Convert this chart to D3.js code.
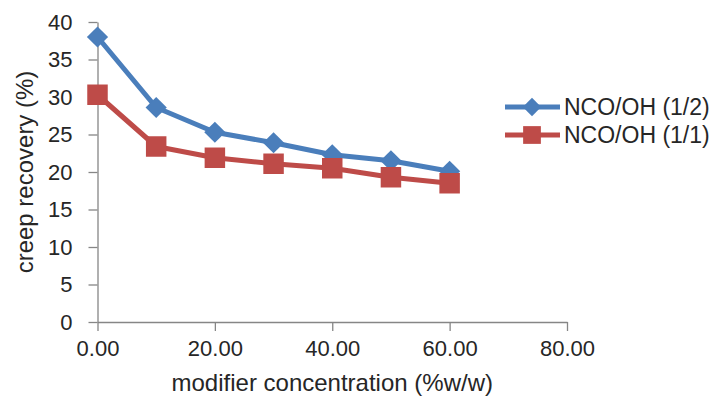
<!DOCTYPE html>
<html>
<head>
<meta charset="utf-8">
<script src="https://cdn.jsdelivr.net/npm/d3@7"></script>
<style>
  body { margin: 0; background: #fff; }
  svg { display: block; font-family: "Liberation Sans", Arial, sans-serif; }
  .axis path, .axis line { stroke: #868686; stroke-width: 1.3; }
  .axis text { fill: #262626; font-size: 22px; }
  .title { fill: #262626; font-size: 24px; }
  .legend text { fill: #262626; font-size: 23px; }
</style>
</head>
<body>
<svg width="719" height="402"></svg>
<script>
// data
var concentration = [0, 10, 20, 30, 40, 50, 60];
var recoveryHalf = [38.0, 28.6, 25.3, 23.9, 22.3, 21.5, 20.1];
var recoveryOne = [30.3, 23.4, 21.9, 21.1, 20.5, 19.3, 18.5];
var seriesNames = ["NCO/OH (1/2)", "NCO/OH (1/1)"];
var xTicks = [0, 20, 40, 60, 80];
var yTicks = [0, 5, 10, 15, 20, 25, 30, 35, 40];

var margin = { top: 22, right: 152, bottom: 80, left: 97.5 };
var width = 719 - margin.left - margin.right;
var height = 402 - margin.top - margin.bottom;

var svg = d3.select("svg");
var g = svg.append("g")
    .attr("transform", "translate(" + margin.left + "," + margin.top + ")");

var x = d3.scaleLinear().domain([0, 80]).range([0, width]);
var y = d3.scaleLinear().domain([0, 40]).range([height, 0]);

g.append("g")
    .attr("class", "axis axis--x")
    .attr("transform", "translate(0," + height + ")")
    .call(d3.axisBottom(x).tickValues(xTicks).tickFormat(d3.format(".2f")).tickSize(9).tickSizeOuter(0).tickPadding(9));

g.append("g")
    .attr("class", "axis axis--y")
    .call(d3.axisLeft(y).tickValues(yTicks).tickSize(9).tickSizeOuter(0).tickPadding(16));

svg.append("text")
    .attr("class", "title")
    .attr("text-anchor", "middle")
    .attr("transform", "translate(33," + (margin.top + height / 2) + ") rotate(-90)")
    .text("creep recovery (%)");

svg.append("text")
    .attr("class", "title")
    .attr("text-anchor", "middle")
    .attr("x", margin.left + width / 2)
    .attr("y", 391)
    .text("modifier concentration (%w/w)");

// diamond = square turned 45 degrees
var series = [
    { name: seriesNames[0], values: recoveryHalf, color: "#4a7ebb", shape: d3.symbolSquare, size: 225, rot: 45 },
    { name: seriesNames[1], values: recoveryOne, color: "#be4b48", shape: d3.symbolSquare, size: 420, rot: 0 }
];

var line = d3.line()
    .x(function (d, i) { return x(concentration[i]); })
    .y(function (d) { return y(d); });

series.forEach(function (s) {
    g.append("path")
        .datum(s.values)
        .attr("fill", "none")
        .attr("stroke", s.color)
        .attr("stroke-width", 5)
        .attr("stroke-linejoin", "round")
        .attr("d", line);
    g.selectAll(null)
        .data(s.values)
        .enter().append("path")
        .attr("fill", s.color)
        .attr("transform", function (d, i) { return "translate(" + x(concentration[i]) + "," + y(d) + ") rotate(" + s.rot + ")"; })
        .attr("d", d3.symbol().type(s.shape).size(s.size));
});

// legend
var legend = svg.append("g").attr("class", "legend");
series.forEach(function (s, i) {
    var ly = 107 + i * 28;
    legend.append("line")
        .attr("x1", 505).attr("x2", 560)
        .attr("y1", ly).attr("y2", ly)
        .attr("stroke", s.color)
        .attr("stroke-width", 5);
    legend.append("path")
        .attr("fill", s.color)
        .attr("transform", "translate(532," + ly + ") rotate(" + s.rot + ")")
        .attr("d", d3.symbol().type(s.shape).size(s.size * 0.75));
    legend.append("text")
        .attr("x", 564)
        .attr("y", ly)
        .attr("dy", "0.35em")
        .text(s.name);
});
</script>
</body>
</html>
